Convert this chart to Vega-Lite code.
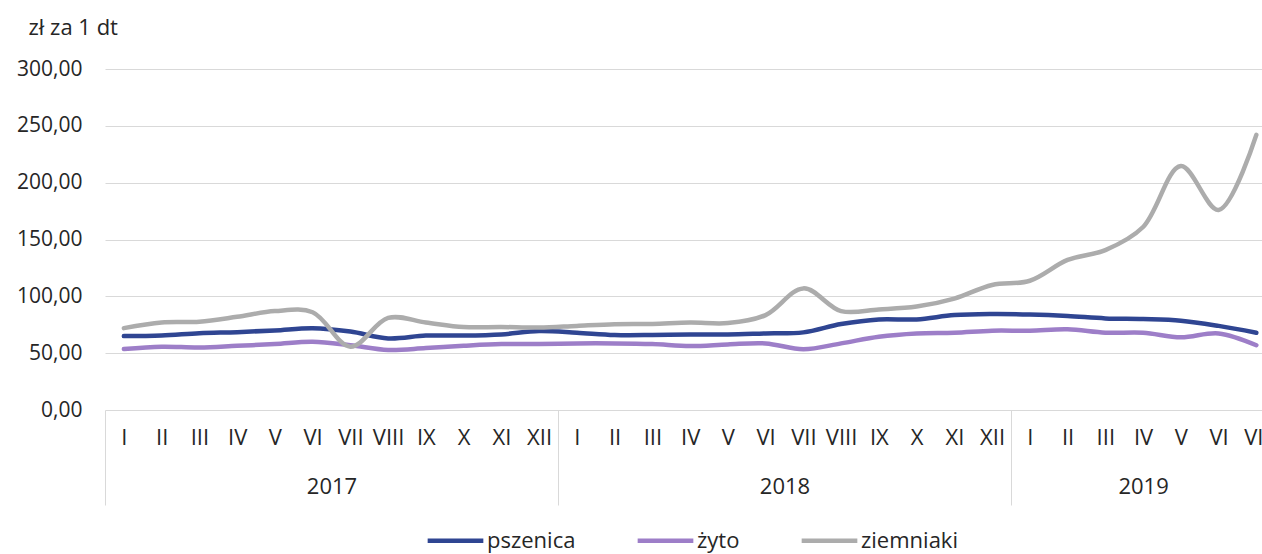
{
  "$schema": "https://vega.github.io/schema/vega-lite/v6.json",
  "width": 1157,
  "height": 341,
  "autosize": "none",
  "padding": {"left": 105, "top": 69, "right": 0, "bottom": 144},
  "background": "white",
  "config": {
    "font": "Open Sans",
    "view": {"stroke": null},
    "axis": {"labelColor": "#262626", "titleColor": "#262626", "labelFont": "Open Sans", "titleFont": "Open Sans"},
    "legend": {"labelColor": "#262626", "labelFont": "Open Sans"}
  },
  "datasets": {
    "ceny": [
      {"i": 0, "rok": 2017, "miesiac": "I", "pszenica": 65, "żyto": 53.6, "ziemniaki": 72},
      {"i": 1, "rok": 2017, "miesiac": "II", "pszenica": 65.5, "żyto": 55.7, "ziemniaki": 77},
      {"i": 2, "rok": 2017, "miesiac": "III", "pszenica": 67.5, "żyto": 55, "ziemniaki": 77.7},
      {"i": 3, "rok": 2017, "miesiac": "IV", "pszenica": 68.5, "żyto": 56.5, "ziemniaki": 82},
      {"i": 4, "rok": 2017, "miesiac": "V", "pszenica": 70, "żyto": 58, "ziemniaki": 87},
      {"i": 5, "rok": 2017, "miesiac": "VI", "pszenica": 72, "żyto": 60, "ziemniaki": 86},
      {"i": 6, "rok": 2017, "miesiac": "VII", "pszenica": 69, "żyto": 57, "ziemniaki": 55.7},
      {"i": 7, "rok": 2017, "miesiac": "VIII", "pszenica": 63, "żyto": 52.8, "ziemniaki": 81},
      {"i": 8, "rok": 2017, "miesiac": "IX", "pszenica": 65.5, "żyto": 54.5, "ziemniaki": 77},
      {"i": 9, "rok": 2017, "miesiac": "X", "pszenica": 65.5, "żyto": 56.5, "ziemniaki": 73},
      {"i": 10, "rok": 2017, "miesiac": "XI", "pszenica": 66.5, "żyto": 58, "ziemniaki": 73},
      {"i": 11, "rok": 2017, "miesiac": "XII", "pszenica": 69.5, "żyto": 58, "ziemniaki": 72.5},
      {"i": 12, "rok": 2018, "miesiac": "I", "pszenica": 68, "żyto": 58.6, "ziemniaki": 74},
      {"i": 13, "rok": 2018, "miesiac": "II", "pszenica": 66, "żyto": 58.6, "ziemniaki": 75.4},
      {"i": 14, "rok": 2018, "miesiac": "III", "pszenica": 66, "żyto": 58, "ziemniaki": 75.7},
      {"i": 15, "rok": 2018, "miesiac": "IV", "pszenica": 66.5, "żyto": 56.3, "ziemniaki": 77},
      {"i": 16, "rok": 2018, "miesiac": "V", "pszenica": 66.5, "żyto": 57.7, "ziemniaki": 76.5},
      {"i": 17, "rok": 2018, "miesiac": "VI", "pszenica": 67.4, "żyto": 58.6, "ziemniaki": 83.5},
      {"i": 18, "rok": 2018, "miesiac": "VII", "pszenica": 68.3, "żyto": 53.4, "ziemniaki": 107},
      {"i": 19, "rok": 2018, "miesiac": "VIII", "pszenica": 75.6, "żyto": 58.6, "ziemniaki": 87},
      {"i": 20, "rok": 2018, "miesiac": "IX", "pszenica": 79.7, "żyto": 64.5, "ziemniaki": 88.5},
      {"i": 21, "rok": 2018, "miesiac": "X", "pszenica": 79.7, "żyto": 67.4, "ziemniaki": 91},
      {"i": 22, "rok": 2018, "miesiac": "XI", "pszenica": 83.5, "żyto": 68, "ziemniaki": 98},
      {"i": 23, "rok": 2018, "miesiac": "XII", "pszenica": 84.4, "żyto": 69.8, "ziemniaki": 110},
      {"i": 24, "rok": 2019, "miesiac": "I", "pszenica": 84, "żyto": 69.8, "ziemniaki": 113.7},
      {"i": 25, "rok": 2019, "miesiac": "II", "pszenica": 82.7, "żyto": 71, "ziemniaki": 132},
      {"i": 26, "rok": 2019, "miesiac": "III", "pszenica": 80.6, "żyto": 68, "ziemniaki": 140.7},
      {"i": 27, "rok": 2019, "miesiac": "IV", "pszenica": 80, "żyto": 68, "ziemniaki": 161},
      {"i": 28, "rok": 2019, "miesiac": "V", "pszenica": 78.6, "żyto": 64, "ziemniaki": 214.6},
      {"i": 29, "rok": 2019, "miesiac": "VI", "pszenica": 74, "żyto": 67.4, "ziemniaki": 176},
      {"i": 30, "rok": 2019, "miesiac": "VII", "pszenica": 68, "żyto": 57, "ziemniaki": 242}
    ],
    "lata": [
      {"rok": "2017", "poczatek": -0.5, "srodek": 5.5},
      {"rok": "2018", "poczatek": 11.5, "srodek": 17.5},
      {"rok": "2019", "poczatek": 23.5, "srodek": 27}
    ]
  },
  "layer": [
    {
      "data": {"name": "ceny"},
      "transform": [{"fold": ["pszenica", "żyto", "ziemniaki"], "as": ["seria", "cena"]}],
      "mark": {"type": "line", "interpolate": "catmull-rom", "strokeWidth": 4.5, "strokeCap": "round"},
      "encoding": {
        "x": {
          "field": "i", "type": "quantitative",
          "scale": {"domain": [-0.5, 30.15], "nice": false, "zero": false},
          "axis": {
            "orient": "bottom",
            "values": [0,1,2,3,4,5,6,7,8,9,10,11,12,13,14,15,16,17,18,19,20,21,22,23,24,25,26,27,28,29,30],
            "labelExpr": "['I','II','III','IV','V','VI','VII','VIII','IX','X','XI','XII'][datum.value % 12]",
            "ticks": false, "tickSize": 0, "domain": false, "grid": false,
            "labelPadding": 17, "labelFontSize": 22, "labelOverlap": false, "labelFlush": false, "title": null
          }
        },
        "y": {
          "field": "cena", "type": "quantitative",
          "scale": {"domain": [0, 300], "nice": false},
          "axis": {
            "values": [0, 50, 100, 150, 200, 250, 300],
            "labelExpr": "replace(format(datum.value, '.2f'), '.', ',')",
            "ticks": false, "domain": false, "gridColor": "#d9d9d9", "gridWidth": 1,
            "labelFontSize": 21, "labelPadding": 23,
            "title": "zł za 1 dt", "titleAngle": 0, "titleAlign": "left", "titleBaseline": "middle",
            "titleX": -77, "titleY": -42, "titleFontSize": 22, "titleFontWeight": "normal"
          }
        },
        "color": {
          "field": "seria", "type": "nominal",
          "scale": {"domain": ["pszenica", "żyto", "ziemniaki"], "range": ["#2F4592", "#9D7EC8", "#ACACAC"]},
          "legend": {
            "orient": "none", "legendX": 320, "legendY": 441, "direction": "horizontal", "title": null,
            "symbolType": "stroke", "symbolStrokeWidth": 4.5, "symbolSize": 3100,
            "labelFontSize": 22, "columnPadding": 52, "labelOffset": 1
          }
        }
      }
    },
    {
      "data": {"name": "lata"},
      "mark": {"type": "rule", "opacity": 0},
      "encoding": {
        "x": {
          "field": "poczatek", "type": "quantitative",
          "scale": {"domain": [-0.5, 30.15], "nice": false, "zero": false},
          "axis": {
            "orient": "bottom", "values": [-0.5, 11.5, 23.5], "labels": false, "domain": false, "grid": false,
            "ticks": true, "tickSize": 95, "tickColor": "#d9d9d9", "tickWidth": 1, "title": null
          }
        }
      }
    },
    {
      "data": {"name": "lata"},
      "mark": {"type": "rule", "opacity": 0},
      "encoding": {
        "x": {
          "field": "srodek", "type": "quantitative",
          "scale": {"domain": [-0.5, 30.15], "nice": false, "zero": false},
          "axis": {
            "orient": "bottom", "values": [5.5, 17.5, 27],
            "labelExpr": "datum.value < 12 ? '2017' : datum.value < 24 ? '2018' : '2019'",
            "ticks": false, "tickSize": 0, "domain": false, "grid": false,
            "labelPadding": 66, "labelFontSize": 22, "labelOverlap": false, "labelFlush": false, "title": null
          }
        }
      }
    }
  ],
  "resolve": {"axis": {"x": "independent"}}
}
